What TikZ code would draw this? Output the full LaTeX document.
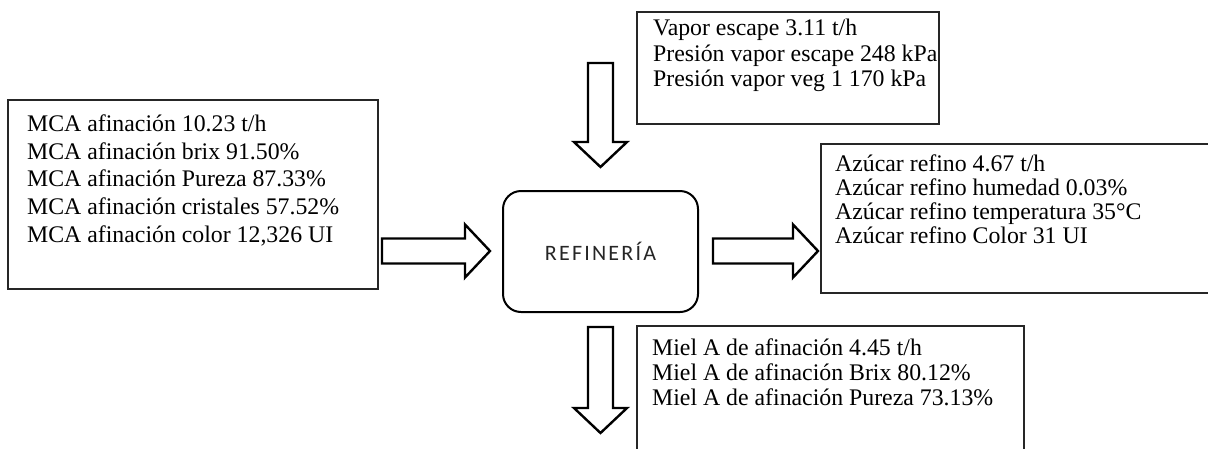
\documentclass[tikz,border=0pt]{standalone}
\usepackage{fontspec}
\setmainfont{Liberation Serif}
\newfontfamily\refinfont[LetterSpace=10]{Carlito}
\begin{document}
\begin{tikzpicture}[x=1pt,y=-1pt,
  databox/.style={draw=black!85,line width=1.3pt},
  dataline/.style={anchor=base west,inner sep=0pt,font=\fontsize{23.8}{28}\selectfont,text=black},
  arrowline/.style={draw=black,line width=2.4pt,fill=white,line join=miter},
  processbox/.style={draw=black,line width=2pt,rounded corners=18pt,minimum width=195pt,minimum height=121pt},
  pics/blockarrow/.style={code={
    \draw[arrowline] (0,-12.5) -- (#1-25,-12.5) -- (#1-25,-26.5) -- (#1,0)
      -- (#1-25,26.5) -- (#1-25,12.5) -- (0,12.5) -- cycle;}}]
\path[use as bounding box,clip] (0,0) rectangle (1208,448);
\fill[white] (0,0) rectangle (1208,448);

% central process
\node[processbox] (ref) at (600.5,251.5) {};
\node[font=\refinfont\fontsize{22}{24}\selectfont,text=black!85] (reflabel) at (ref.center) {REFINERÍA};

% input: MCA de afinación
\draw[databox] (8,100) rectangle (378,289);
\node[dataline] (m1) at (27,131) {MCA afinación 10.23 t/h};
\node[dataline] (m2) at (27,159) {MCA afinación brix 91.50\%};
\node[dataline] (m3) at (27,186) {MCA afinación Pureza 87.33\%};
\node[dataline] (m4) at (27,214) {MCA afinación cristales 57.52\%};
\node[dataline] (m5) at (27,242) {MCA afinación color 12,326 UI};

% input: vapor
\draw[databox] (637,12) rectangle (939,124);
\node[dataline] (v1) at (653,35) {Vapor escape 3.11 t/h};
\node[dataline] (v2) at (653,61) {Presión vapor escape 248 kPa};
\node[dataline] (v3) at (653,86) {Presión vapor veg 1 170 kPa};

% output: azúcar refino
\draw[databox] (821,144) rectangle (1230,293);
\node[dataline] (a1) at (835,171) {Azúcar refino 4.67 t/h};
\node[dataline] (a2) at (835,195) {Azúcar refino humedad 0.03\%};
\node[dataline] (a3) at (835,219) {Azúcar refino temperatura 35°C};
\node[dataline] (a4) at (835,243) {Azúcar refino Color 31 UI};

% output: miel A
\draw[databox] (637,326) rectangle (1024,470);
\node[dataline] (h1) at (652,355) {Miel A de afinación 4.45 t/h};
\node[dataline] (h2) at (652,380) {Miel A de afinación Brix 80.12\%};
\node[dataline] (h3) at (652,405) {Miel A de afinación Pureza 73.13\%};

% flow arrows
\pic at (382,251) {blockarrow=108};
\pic at (713,251) {blockarrow=105};
\pic[rotate=-90] at (600.5,63) {blockarrow=104};
\pic[rotate=-90] at (600.5,327) {blockarrow=106};
\end{tikzpicture}
\end{document}
